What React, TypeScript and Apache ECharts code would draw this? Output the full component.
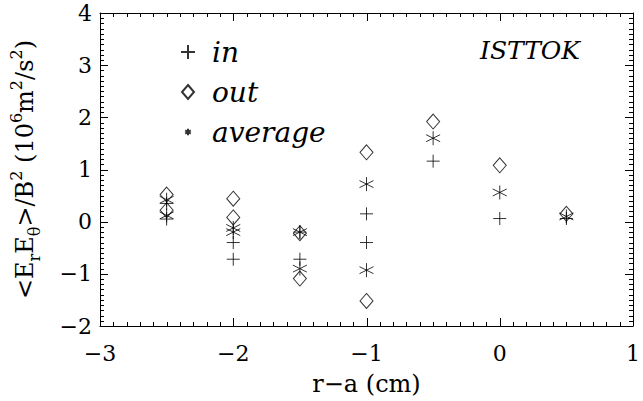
import React, { useEffect, useRef } from 'react';
import * as echarts from 'echarts';

// ---- data ----
const inX = [-2.5, -2.5, -2, -2, -1.5, -1.5, -1, -1, -0.5, 0, 0.5];
const inY = [0.35, 0.05, -0.4, -0.72, -0.2, -0.72, 0.15, -0.4, 1.16, 0.06, 0.06];
const outX = [-2.5, -2.5, -2, -2, -1.5, -1.5, -1, -1, -0.5, 0, 0.5];
const outY = [0.52, 0.22, 0.44, 0.08, -0.22, -1.09, 1.33, -1.52, 1.92, 1.08, 0.15];
const avgX = [-2.5, -2.5, -2, -2, -1.5, -1.5, -1, -1, -0.5, 0, 0.5];
const avgY = [0.42, 0.12, -0.12, -0.2, -0.2, -0.9, 0.72, -0.93, 1.6, 0.56, 0.1];

const xMin = -3;
const xMax = 1;
const yMin = -2;
const yMax = 4;
const minorPerMajor = 10;

const seriesNames = ['in', 'out', 'average'];
const titleText = 'ISTTOK';
const xName = 'r\u2212a (cm)';

const FONT = 'DejaVu Serif';

const PLUS = 'path://M0,6 L12,6 M6,0 L6,12';
const DIAMOND = 'path://M6,0 L12,7 L6,14 L0,7 Z';
const ASTER = 'path://M6,0 L6,12 M0,3 L12,9 M0,9 L12,3';
const ASTER_LEGEND = 'path://M0,0 M20,20 M10,5.5 L10,14.5 M6,7.7 L14,12.3 M6,12.3 L14,7.7';

const zip = (xs: number[], ys: number[]) => xs.map((x, i) => [x, ys[i]]);
const minus = (v: number) => (v < 0 ? '\u2212' + Math.abs(v) : String(v));

// tick positions along each axis (every 1/10 of a major interval)
const tickValues = (lo: number, hi: number) =>
  Array.from({ length: (hi - lo) * minorPerMajor + 1 }, (_, i) => +(lo + i / minorPerMajor).toFixed(3));
const isMajor = (v: number) => (Math.abs(v - Math.round(v)) < 1e-6 ? 1 : 0);
const xTicks = tickValues(xMin, xMax);
const yTicks = tickValues(yMin, yMax);

function axisBase() {
  return {
    axisLine: { show: true, onZero: false, lineStyle: { color: '#000', width: 1 } },
    axisTick: { show: false },
    minorTick: { show: false },
    splitLine: { show: false },
  };
}

const tickLine = (x1: number, y1: number, x2: number, y2: number) => ({
  type: 'line',
  shape: { x1, y1, x2, y2 },
  style: { stroke: '#000', lineWidth: 1 },
});

export default function App() {
  const ref = useRef<HTMLDivElement>(null);
  useEffect(() => {
    if (!ref.current) return;
    const chart = echarts.init(ref.current, undefined, { renderer: 'svg' });
    const symStyle = () => ({ color: 'transparent', borderColor: '#000', borderWidth: 1 });
    chart.setOption({
      animation: false,
      backgroundColor: '#fff',
      grid: { left: 100, right: 3, top: 13, bottom: 72, containLabel: false },
      xAxis: [
        {
          type: 'value', min: xMin, max: xMax, interval: 1, position: 'bottom',
          ...axisBase(),
          axisLabel: { color: '#000', fontFamily: FONT, fontSize: 22, margin: 16, formatter: minus },
          name: xName, nameLocation: 'middle', nameGap: 46,
          nameTextStyle: { color: '#000', fontFamily: FONT, fontSize: 24 },
        },
        {
          type: 'value', min: xMin, max: xMax, interval: 1, position: 'top',
          ...axisBase(), axisLabel: { show: false },
        },
      ],
      yAxis: [
        {
          type: 'value', min: yMin, max: yMax, interval: 1, position: 'left',
          ...axisBase(),
          axisLabel: { color: '#000', fontFamily: FONT, fontSize: 22, margin: 8, formatter: minus },
          name: '{t|<E}{sub|r}{t|E}{sub|\u03b8}{t|>/B}{sup|2}{t| (10}{sup|6}{t|m}{sup|2}{t|/s}{sup|2}{t|)}',
          nameLocation: 'middle', nameGap: 58,
          nameTextStyle: {
            color: '#000', fontFamily: FONT, fontSize: 24,
            rich: {
              t: { fontFamily: FONT, fontSize: 24, lineHeight: 34, color: '#000' },
              sub: { fontFamily: FONT, fontSize: 16, verticalAlign: 'bottom', color: '#000' },
              sup: { fontFamily: FONT, fontSize: 16, verticalAlign: 'top', color: '#000' },
            },
          },
        },
        {
          type: 'value', min: yMin, max: yMax, interval: 1, position: 'right',
          ...axisBase(), axisLabel: { show: false },
        },
      ],
      legend: {
        orient: 'vertical', left: 175, top: 31, itemWidth: 26, itemHeight: 14, itemGap: 8,
        textStyle: { fontFamily: FONT, fontStyle: 'italic', fontSize: 28, color: '#000', lineHeight: 32, padding: [0, 0, 0, 6] },
        data: [
          { name: seriesNames[0], icon: PLUS },
          { name: seriesNames[1], icon: DIAMOND },
          { name: seriesNames[2], icon: ASTER_LEGEND, itemStyle: { color: 'transparent', borderColor: '#000', borderWidth: 2 } },
        ],
      },
      graphic: [
        {
          type: 'text', x: 480, y: 50,
          style: { text: titleText, font: `italic 25px "${FONT}"`, fill: '#000', verticalAlign: 'middle' },
        },
      ],
      series: [
        { name: seriesNames[0], type: 'scatter', symbol: PLUS, symbolSize: 13, itemStyle: symStyle(), data: zip(inX, inY) },
        { name: seriesNames[1], type: 'scatter', symbol: DIAMOND, symbolSize: [13, 15], itemStyle: symStyle(), data: zip(outX, outY) },
        { name: seriesNames[2], type: 'scatter', symbol: ASTER, symbolSize: 14, itemStyle: symStyle(), data: zip(avgX, avgY) },
        {
          name: 'xticks', type: 'custom', coordinateSystem: 'cartesian2d', silent: true,
          data: xTicks.map((v) => [v, isMajor(v)]),
          renderItem: (params: any, api: any) => {
            const cs = params.coordSys;
            const len = api.value(1) ? 8 : 4;
            const px = Math.round(api.coord([api.value(0), yMin])[0]) + 0.5;
            const top = cs.y;
            const bottom = cs.y + cs.height;
            return {
              type: 'group',
              children: [tickLine(px, bottom, px, bottom - len), tickLine(px, top, px, top + len)],
            };
          },
        },
        {
          name: 'yticks', type: 'custom', coordinateSystem: 'cartesian2d', silent: true,
          data: yTicks.map((v) => [isMajor(v), v]),
          renderItem: (params: any, api: any) => {
            const cs = params.coordSys;
            const len = api.value(0) ? 8 : 4;
            const py = Math.round(api.coord([xMin, api.value(1)])[1]) + 0.5;
            const left = cs.x;
            const right = cs.x + cs.width;
            return {
              type: 'group',
              children: [tickLine(left, py, left + len, py), tickLine(right, py, right - len, py)],
            };
          },
        },
      ],
    });
    return () => chart.dispose();
  }, []);
  return <div ref={ref} style={{ width: 643, height: 401, position: 'absolute', left: 0, top: 0 }} />;
}
